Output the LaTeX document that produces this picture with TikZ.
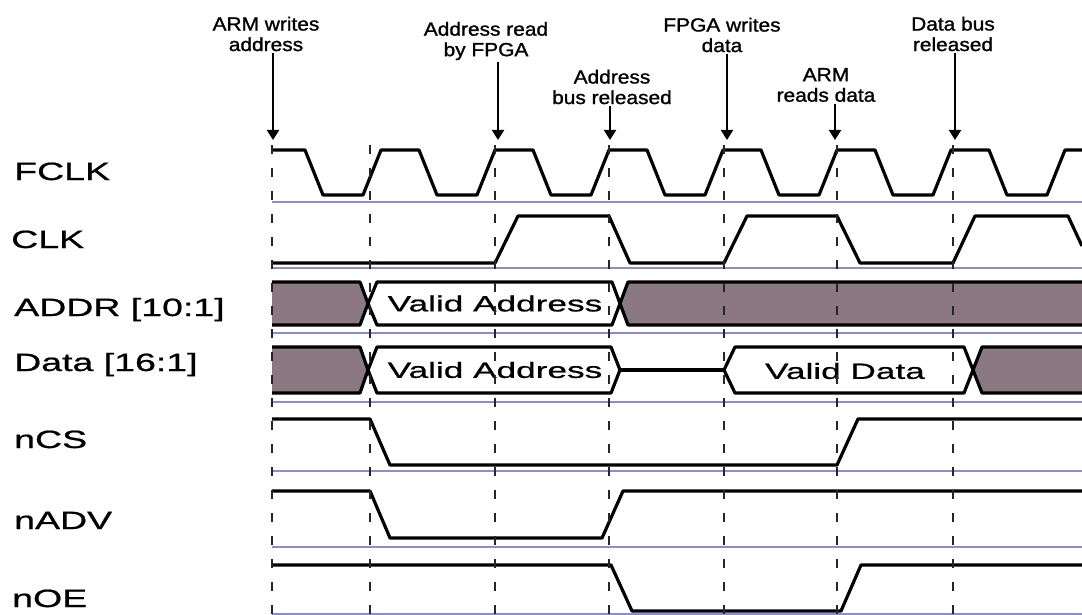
\documentclass[tikz,border=0pt]{standalone}
\usepackage{fontspec}
\setmainfont{Liberation Sans}
\newfontfamily\sidefont[FakeStretch=1.5,FakeBold=0.8]{Liberation Sans}
\newfontfamily\busfont[FakeStretch=1.6,FakeBold=0.8]{Liberation Sans}
\newfontfamily\topfont[FakeStretch=1.1,FakeBold=1.2]{Liberation Sans}
\usetikzlibrary{arrows.meta}
\definecolor{busgray}{RGB}{138,121,128}
\definecolor{baseblue}{RGB}{140,140,210}
\begin{document}
\begin{tikzpicture}[x=1pt,y=-1pt,
  sig/.style={line width=3.2pt, line join=round},
  baseln/.style={baseblue, line width=2pt},
  tick/.style={line width=1.8pt, dash pattern=on 9pt off 14pt, black!85},
  marker/.style={line width=2pt, -{Triangle[width=12pt,length=10pt]}},
  toplabel/.style={font=\topfont\fontsize{19}{20.5}\selectfont, align=center, inner sep=2pt},
  sidelabel/.style={font=\sidefont\fontsize{25}{30}\selectfont, anchor=base west, inner sep=0pt},
  buslabel/.style={font=\busfont\fontsize{22}{26}\selectfont, inner sep=0pt},
  busfill/.style={fill=busgray, draw=black, line width=3.2pt, line join=round},
  busvalid/.style={fill=white, draw=black, line width=3.2pt, line join=round}]

\useasboundingbox (0,0) rectangle (1082,615);

% ---- side labels
\node[sidelabel] (lfclk) at (14,180) {FCLK};
\node[sidelabel] (lclk)  at (11,248) {CLK};
\node[sidelabel] (laddr) at (14,316) {ADDR [10:1]};
\node[sidelabel] (ldata) at (14,371) {Data [16:1]};
\node[sidelabel] (lncs)  at (14,448) {nCS};
\node[sidelabel] (lnadv) at (14,529) {nADV};
\node[sidelabel] (lnoe)  at (12,607) {nOE};

% ---- baselines
\draw[baseln] (272,202) -- (1082,202);
\draw[baseln] (272,268) -- (1082,268);
\draw[baseln] (272,333) -- (1082,333);
\draw[baseln] (272,402) -- (1082,402);
\draw[baseln] (272,471) -- (1082,471);
\draw[baseln] (272,547) -- (1082,547);
\draw[baseln] (272,614) -- (1082,614);

% ---- FCLK
\draw[sig] (272,150) -- (305,150) -- (323,195) -- (363,195) -- (381,150)
  -- (419,150) -- (437,195) -- (477,195) -- (495,150)
  -- (533,150) -- (551,195) -- (591,195) -- (609,150)
  -- (647,150) -- (665,195) -- (705,195) -- (723,150)
  -- (761,150) -- (779,195) -- (819,195) -- (837,150)
  -- (875,150) -- (893,195) -- (933,195) -- (951,150)
  -- (989,150) -- (1007,195) -- (1047,195) -- (1065,150) -- (1082,150);

% ---- CLK
\draw[sig] (272,263) -- (495,263) -- (518,216) -- (609,216) -- (630,263)
  -- (724,263) -- (747,216) -- (837,216) -- (860,263) -- (953,263)
  -- (975,216) -- (1068,216) -- (1082,246);

% ---- ADDR bus
\path[busfill] (272,282) -- (360,282) -- (368,303.5) -- (360,325) -- (272,325);
\path[busvalid] (368,303.5) -- (377,282) -- (612,282) -- (620,303.5) -- (612,325) -- (377,325) -- cycle;
\path[busfill] (1082,282) -- (628,282) -- (620,303.5) -- (628,325) -- (1082,325);
\node[buslabel] (vaddr) at (495,303.5) {Valid Address};

% ---- Data bus
\path[busfill] (272,347) -- (360,347) -- (368,370) -- (360,393) -- (272,393);
\path[busvalid] (368,370) -- (377,347) -- (611,347) -- (620,370) -- (611,393) -- (377,393) -- cycle;
\draw[sig] (620,370) -- (724,370);
\path[busvalid] (724,370) -- (735,347) -- (964,347) -- (973,370) -- (964,393) -- (735,393) -- cycle;
\path[busfill] (1082,347) -- (982,347) -- (973,370) -- (982,393) -- (1082,393);
\node[buslabel] (vdaddr) at (495,370) {Valid Address};
\node[buslabel] (vdata) at (845,371) {Valid Data};

% ---- control signals
\draw[sig] (272,419) -- (370,419) -- (390,465) -- (837,465) -- (858,419) -- (1082,419);
\draw[sig] (272,491) -- (370,491) -- (390,538) -- (602,538) -- (623,491) -- (1082,491);
\draw[sig] (272,565) -- (611,565) -- (632,611) -- (841,611) -- (861,565) -- (1082,565);

% ---- time markers (dashed)
\foreach \n/\x in {a/272,b/370,c/495,d/609,e/724,f/837,g/953}{
  \coordinate (top\n) at (\x,145);
  \coordinate (bot\n) at (\x,615);
}
\foreach \n in {a,b,c,d,e,f,g}{ \draw[tick] (top\n) -- (bot\n); }

% ---- top labels and arrows
\node[toplabel] (m1) at (266,34) {ARM writes\\address};
\node[toplabel] (m2) at (486,41) {Address read\\by FPGA};
\node[toplabel] (m3) at (612,87) {Address\\bus released};
\node[toplabel] (m4) at (722,35) {FPGA writes\\data};
\node[toplabel] (m5) at (826,85) {ARM\\reads data};
\node[toplabel] (m6) at (953,34) {Data bus\\released};

\coordinate (p1) at (273,140);
\coordinate (p2) at (498,140);
\coordinate (p3) at (610,140);
\coordinate (p4) at (727,140);
\coordinate (p5) at (835,140);
\coordinate (p6) at (955,140);
\draw[marker] (m1.south -| p1) -- (p1);
\draw[marker] (m2.south -| p2) -- (p2);
\draw[marker] (m3.south -| p3) -- (p3);
\draw[marker] (m4.south -| p4) -- (p4);
\draw[marker] (m5.south -| p5) -- (p5);
\draw[marker] (m6.south -| p6) -- (p6);
\end{tikzpicture}
\end{document}
